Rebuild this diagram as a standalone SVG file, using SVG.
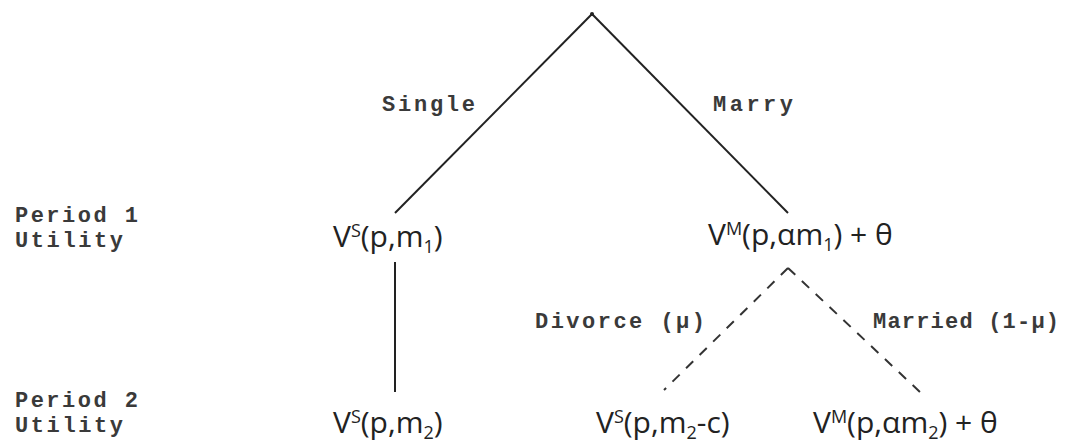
<svg xmlns="http://www.w3.org/2000/svg" width="1083" height="444" viewBox="0 0 1083 444">
<style>
.lbl{font-family:"Liberation Mono","DejaVu Sans Mono",monospace;font-size:22px;font-weight:bold;fill:#3a3a3a}
.m{font-family:"Open Sans","Noto Sans",sans-serif;font-size:30px;fill:#222}
.sup{font-size:18px}
.sub{font-size:18px}
.solid{stroke:#222;stroke-width:2;fill:none}
.dash{stroke:#333;stroke-width:2;fill:none;stroke-dasharray:10 9}
</style>
<rect width="1083" height="444" fill="#fff"/>
<g id="connectors">
<line class="solid" x1="592" y1="14" x2="395" y2="213"/>
<line class="solid" x1="592" y1="14" x2="788" y2="213"/>
<circle cx="592" cy="14" r="2" fill="#222"/>
<line class="solid" x1="395" y1="262" x2="395" y2="392"/>
<line class="dash" x1="788" y1="268" x2="664" y2="390"/>
<line class="dash" x1="788" y1="268" x2="920" y2="392"/>
</g>
<g id="edge-labels">
<text class="lbl" x="382" y="111" textLength="93" lengthAdjust="spacing">Single</text>
<text class="lbl" x="713" y="111" textLength="80" lengthAdjust="spacing">Marry</text>
<text class="lbl" x="535" y="328" textLength="170" lengthAdjust="spacing">Divorce (μ)</text>
<text class="lbl" x="873" y="328" textLength="186" lengthAdjust="spacing">Married (1-μ)</text>
</g>
<g id="row-labels">
<text class="lbl" x="15" y="222" textLength="123" lengthAdjust="spacing">Period 1</text>
<text class="lbl" x="15" y="247" textLength="108" lengthAdjust="spacing">Utility</text>
<text class="lbl" x="15" y="407" textLength="123" lengthAdjust="spacing">Period 2</text>
<text class="lbl" x="15" y="432" textLength="108" lengthAdjust="spacing">Utility</text>
</g>
<g id="node-s1">
<text class="m" x="333" y="247">V<tspan class="sup" dy="-10">S</tspan><tspan dy="10">(p,m</tspan><tspan class="sub" dy="6">1</tspan><tspan dy="-6">)</tspan></text>
</g>
<g id="node-m1">
<text class="m" x="708" y="245">V<tspan class="sup" dy="-10">M</tspan><tspan dy="10">(p,αm</tspan><tspan class="sub" dy="6">1</tspan><tspan dy="-6">) + θ</tspan></text>
</g>
<g id="node-s2">
<text class="m" x="333" y="433">V<tspan class="sup" dy="-10">S</tspan><tspan dy="10">(p,m</tspan><tspan class="sub" dy="6">2</tspan><tspan dy="-6">)</tspan></text>
</g>
<g id="node-d2">
<text class="m" x="596" y="433">V<tspan class="sup" dy="-10">S</tspan><tspan dy="10">(p,m</tspan><tspan class="sub" dy="6">2</tspan><tspan dy="-6">-c)</tspan></text>
</g>
<g id="node-m2">
<text class="m" x="813" y="433">V<tspan class="sup" dy="-10">M</tspan><tspan dy="10">(p,αm</tspan><tspan class="sub" dy="6">2</tspan><tspan dy="-6">) + θ</tspan></text>
</g>
</svg>
